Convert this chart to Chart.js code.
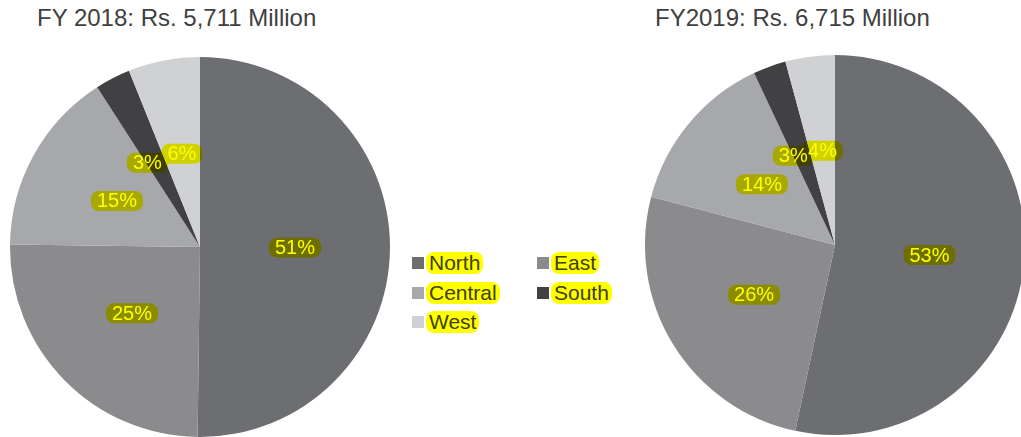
<!DOCTYPE html>
<html>
<head>
<meta charset="utf-8">
<script src="https://cdn.jsdelivr.net/npm/chart.js@4/dist/chart.umd.min.js"></script>
<style>
  html, body { margin: 0; padding: 0; background: #fff; overflow: hidden; width: 1021px; height: 437px; }
  body { position: relative; font-family: "Liberation Sans", Arial, sans-serif; }
  .titulo { position: absolute; top: 4px; font-size: 24px; color: #404040; white-space: nowrap; }
  canvas { position: absolute; }
  #legenda { position: absolute; left: 412px; top: 252px; width: 240px; }
  .item { position: absolute; display: flex; align-items: center; font-size: 21px; }
  .item .cor { width: 12px; height: 12px; margin-right: 2px; }
  .item span { background: #ffff00; color: #404000; border-radius: 8px; padding: 0 3px; line-height: 22px; }
</style>
</head>
<body>
<div class="titulo" style="left:37px">FY 2018: Rs. 5,711 Million</div>
<div class="titulo" style="left:655px">FY2019: Rs. 6,715 Million</div>
<canvas id="pizza-2018" style="left:10px; top:57px; width:380px; height:380px"></canvas>
<canvas id="pizza-2019" style="left:645px; top:55px; width:380px; height:380px"></canvas>
<div id="legenda"></div>

<script>
// regioes e fatias (% da receita)
const regioes = ['North', 'East', 'Central', 'South', 'West'];
const cores = ['#6d6e71', '#8b8b8e', '#a7a8ab', '#414042', '#d0d1d3'];

const fatias2018 = [50.2, 25, 15.7, 3, 6.1];
const rotulos2018 = ['51%', '25%', '15%', '3%', '6%'];

const fatias2019 = [53.3, 25.7, 13.9, 2.8, 4.2];
const rotulos2019 = ['53%', '26%', '14%', '3%', '4%'];

// rotulos com marca-texto amarelo por cima da fatia
const marcaTexto = {
    id: 'marcaTexto',
    afterDatasetsDraw(chart) {
        const ctx = chart.ctx;
        const rotulos = chart.options.plugins.marcaTexto.rotulos;
        const arcos = chart.getDatasetMeta(0).data;
        ctx.save();
        ctx.font = '20px "Liberation Sans", Arial, sans-serif';
        ctx.textAlign = 'center';
        ctx.textBaseline = 'middle';
        arcos.forEach((arco, i) => {
            const p = arco.tooltipPosition();
            // fatia muito fina: desvia o rotulo pro lado pra nao encavalar
            if (arco.circumference < 0.25) p.x -= 9;
            const txt = rotulos[i];
            const w = ctx.measureText(txt).width + 12;
            const h = 20;
            ctx.globalCompositeOperation = 'multiply';
            ctx.fillStyle = '#ffff00';
            ctx.beginPath();
            ctx.roundRect(p.x - w / 2, p.y - h / 2, w, h, 8);
            ctx.fill();
            ctx.globalCompositeOperation = 'source-over';
            ctx.fillStyle = '#ffff00';
            ctx.fillText(txt, p.x, p.y + 1);
        });
        ctx.restore();
    }
};

function criarPizza(id, dados, rotulos) {
    const canvas = document.getElementById(id);
    canvas.width = 380;
    canvas.height = 380;
    return new Chart(canvas.getContext('2d'), {
        type: 'pie',
        data: {
            labels: regioes,
            datasets: [{
                data: dados,
                backgroundColor: cores,
                borderWidth: 0
            }]
        },
        options: {
            responsive: false,
            animation: false,
            devicePixelRatio: 1,
            layout: { padding: 0 },
            plugins: {
                legend: { display: false },
                tooltip: { enabled: false },
                marcaTexto: { rotulos: rotulos }
            }
        },
        plugins: [marcaTexto]
    });
}

criarPizza('pizza-2018', fatias2018, rotulos2018);
criarPizza('pizza-2019', fatias2019, rotulos2019);

// legenda em duas colunas
const posLegenda = [[0, 0], [125, 0], [0, 30], [125, 30], [0, 59]];
document.getElementById('legenda').innerHTML = regioes.map((r, i) => `
    <div class="item" style="left:${posLegenda[i][0]}px; top:${posLegenda[i][1]}px">
        <div class="cor" style="background:${cores[i]}"></div>
        <span>${r}</span>
    </div>
`).join('');
</script>
</body>
</html>
